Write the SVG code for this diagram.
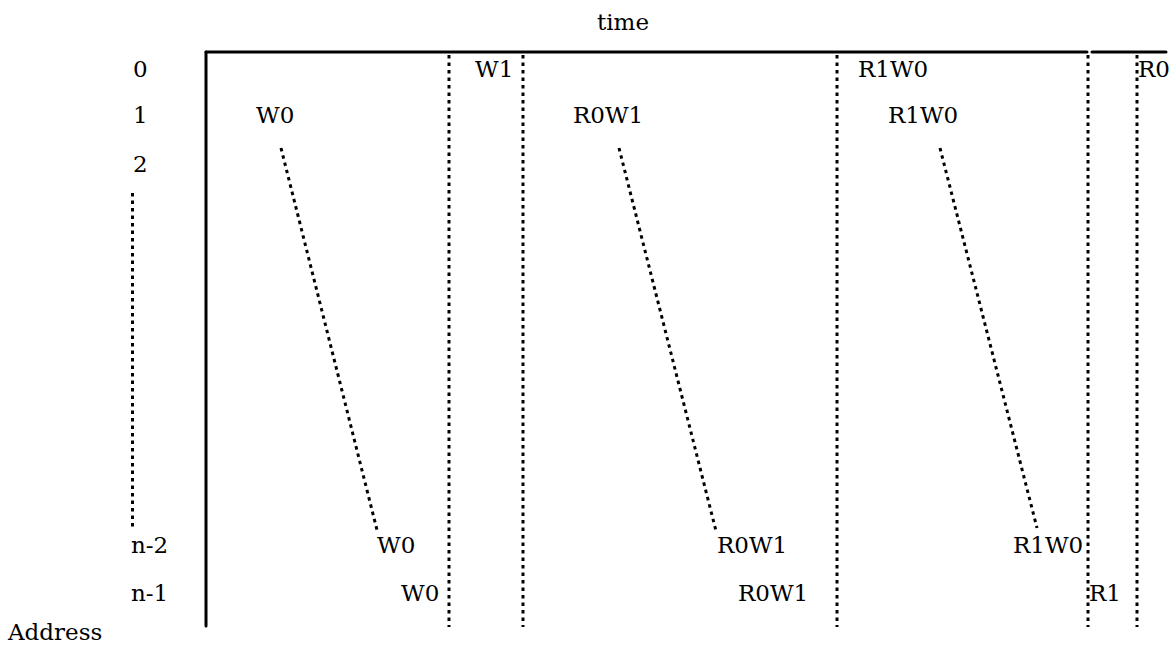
<svg xmlns="http://www.w3.org/2000/svg" width="1171" height="653" viewBox="0 0 1171 653">
<style>
text{font-family:"DejaVu Serif","Liberation Serif",serif;font-size:23px;fill:#000}
.axis{stroke:#000;stroke-width:3;fill:none;stroke-linecap:round}
.dot{stroke:#000;stroke-width:3;fill:none;stroke-dasharray:3.5 4}
</style>
<rect width="1171" height="653" fill="#fff"/>
<g id="axes">
<line class="axis" x1="206" y1="52" x2="1087" y2="52"/>
<line class="axis" x1="1092" y1="52" x2="1166" y2="52"/>
<line class="axis" x1="206" y1="52" x2="206" y2="626"/>
</g>
<g id="connectors">
<line class="dot" x1="132.5" y1="193" x2="132.5" y2="530"/>
<line class="dot" x1="449" y1="55" x2="449" y2="627"/>
<line class="dot" x1="523" y1="55" x2="523" y2="627"/>
<line class="dot" x1="837" y1="55" x2="837" y2="627"/>
<line class="dot" x1="1088" y1="55" x2="1088" y2="627"/>
<line class="dot" x1="1137" y1="55" x2="1137" y2="627"/>
<line class="dot" x1="281" y1="148" x2="377" y2="530"/>
<line class="dot" x1="619" y1="148" x2="716" y2="531"/>
<line class="dot" x1="940" y1="148" x2="1037" y2="528"/>
</g>
<g id="title"><text x="597" y="30">time</text></g>
<g id="address"><text x="8" y="640">Address</text></g>
<g id="row-labels">
<text x="133" y="77">0</text>
<text x="133" y="123">1</text>
<text x="133" y="172">2</text>
<text x="131" y="553">n-2</text>
<text x="131" y="601">n-1</text>
</g>
<g id="phase1"><text x="256" y="123">W0</text><text x="377" y="553">W0</text><text x="401" y="601">W0</text></g>
<g id="phase2"><text x="475" y="77">W1</text></g>
<g id="phase3"><text x="573" y="123">R0W1</text><text x="717" y="553">R0W1</text><text x="738" y="601">R0W1</text></g>
<g id="phase4"><text x="858" y="77">R1W0</text><text x="888" y="123">R1W0</text><text x="1013" y="553">R1W0</text><text x="1089" y="601">R1</text></g>
<g id="phase5"><text x="1138" y="77">R0</text></g>
</svg>
